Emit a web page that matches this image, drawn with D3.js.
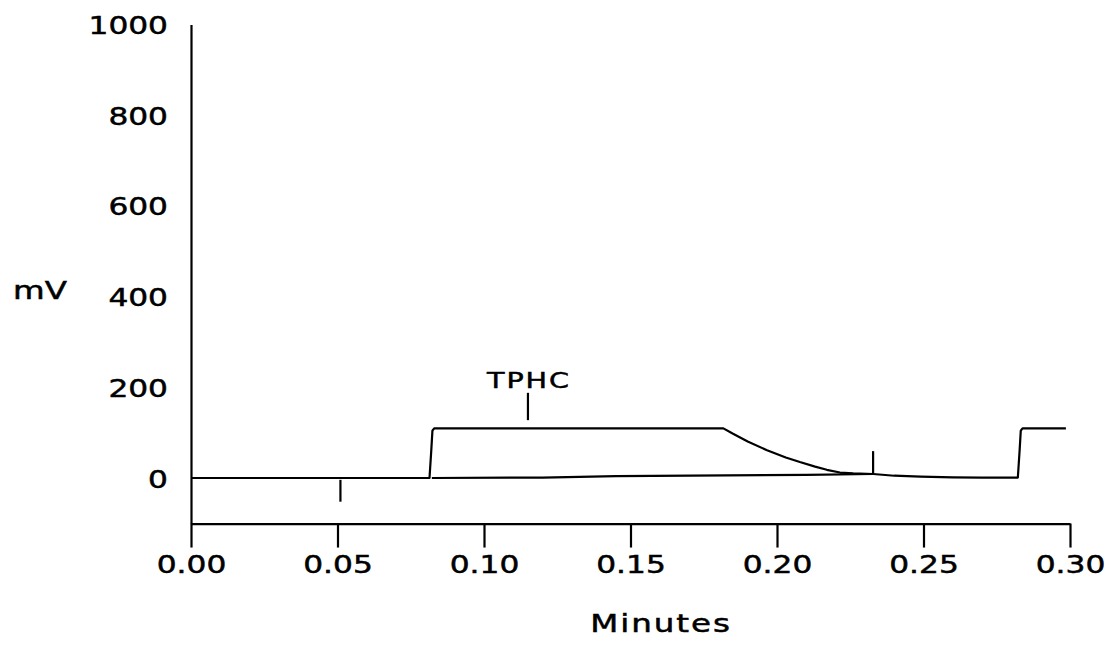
<!DOCTYPE html>
<html>
<head>
<meta charset="utf-8">
<script src="https://cdn.jsdelivr.net/npm/d3@7"></script>
<style>
  html, body { margin: 0; padding: 0; background: #fff; }
  svg { display: block; }
  text { font-family: "DejaVu Sans", sans-serif; fill: #000; stroke: #000; stroke-width: 0.5px; }
</style>
</head>
<body>
<svg id="chart" width="1111" height="647"></svg>
<script>
// Axis ticks
const xTicks = [0, 0.05, 0.10, 0.15, 0.20, 0.25, 0.30];
const yTicks = [0, 200, 400, 600, 800, 1000];

// Detector signal (minutes, mV)
const traceTime = [0, 0.0814, 0.0820, 0.0824, 0.0830, 0.1817, 0.1850, 0.1900, 0.1966, 0.2030,
                   0.2078, 0.2130, 0.2170, 0.2215, 0.2260, 0.2328, 0.2400, 0.2490, 0.2600, 0.2700,
                   0.2822, 0.2828, 0.2832, 0.2838, 0.2986];
const traceMv   = [0, 0, 60, 104, 109, 109, 97, 80, 61, 45,
                   35, 25, 18, 12, 10, 8.8, 5, 2.9, 1.5, 1,
                   1, 60, 104, 109, 109];

// Integration baseline under the TPHC peak
const baselineTime = [0.0822, 0.120, 0.145, 0.210, 0.2328];
const baselineMv   = [0, 1, 4, 7, 8.8];

// Event marks (time, from mV, to mV)
const eventTime = [0.051, 0.115, 0.2328];
const eventFrom = [-4, 127, 11];
const eventTo   = [-52, 187, 59];

// Peak name
const peakName = "TPHC";
const peakNameTime = 0.115;
const peakNameMv = 197;

const svg = d3.select("#chart");

const x = d3.scaleLinear().domain([0, 0.30]).range([191, 1070]);
const y = d3.scaleLinear().domain([0, 1000]).range([478, 22.5]);
const yFloor = -100;

const sx = 1.25; // wide lettering

// x axis along the floor of the plot
const xAxis = svg.append("g")
  .attr("transform", `translate(0,${y(yFloor)})`)
  .call(d3.axisBottom(x).tickValues(xTicks).tickSize(24).tickSizeOuter(0)
        .tickFormat(d3.format(".2f")));
xAxis.select(".domain").attr("stroke", "#000").attr("stroke-width", 2.2);
xAxis.selectAll(".tick line").attr("stroke", "#000").attr("stroke-width", 2.2);
xAxis.selectAll(".tick text")
  .attr("y", null).attr("dy", null)
  .attr("transform", `translate(0,49) scale(${sx},1)`)
  .attr("font-size", 25)
  .attr("font-family", "DejaVu Sans")
  .attr("fill", "#000");

// y axis
const yAxisScale = d3.scaleLinear().domain([yFloor, 1000]).range([y(yFloor), y(1000) + 2]);
const yAxis = svg.append("g")
  .attr("transform", `translate(${x(0)},0)`)
  .call(d3.axisLeft(yAxisScale).tickValues(yTicks).tickSize(0).tickSizeOuter(0)
        .tickFormat(d3.format("d")));
yAxis.select(".domain").attr("stroke", "#000").attr("stroke-width", 2.2);
yAxis.selectAll(".tick line").remove();
yAxis.selectAll(".tick text")
  .attr("x", null).attr("dy", null)
  .attr("transform", `translate(-23,9) scale(${sx},1)`)
  .attr("font-size", 25)
  .attr("font-family", "DejaVu Sans")
  .attr("fill", "#000");

// Axis titles
svg.append("text")
  .attr("transform", `translate(13,299) scale(1.3,1)`)
  .attr("font-size", 25)
  .text("mV");

svg.append("text")
  .attr("transform", `translate(661,632) scale(1.3,1)`)
  .attr("text-anchor", "middle")
  .attr("font-size", 25)
  .attr("letter-spacing", 1.5)
  .text("Minutes");

// Signal trace
const line = d3.line().x(d => x(d[0])).y(d => y(d[1]));
const trace = traceTime.map((t, i) => [t, traceMv[i]]);
const baseline = baselineTime.map((t, i) => [t, baselineMv[i]]);

svg.append("path").datum(trace)
  .attr("d", line)
  .attr("fill", "none").attr("stroke", "#000").attr("stroke-width", 2.2)
  .attr("stroke-linejoin", "round");

svg.append("path").datum(baseline)
  .attr("d", line)
  .attr("fill", "none").attr("stroke", "#000").attr("stroke-width", 2.2);

// Event marks
svg.append("g").selectAll("line")
  .data(eventTime.map((t, i) => ({ t, a: eventFrom[i], b: eventTo[i] })))
  .join("line")
  .attr("x1", d => x(d.t)).attr("x2", d => x(d.t))
  .attr("y1", d => y(d.a)).attr("y2", d => y(d.b))
  .attr("stroke", "#000").attr("stroke-width", 2.2);

// Peak name
svg.append("text")
  .attr("transform", `translate(${x(peakNameTime) + 1},${y(peakNameMv)}) scale(1.3,1)`)
  .attr("text-anchor", "middle")
  .attr("font-size", 22)
  .attr("letter-spacing", 1.5)
  .text(peakName);
</script>
</body>
</html>
